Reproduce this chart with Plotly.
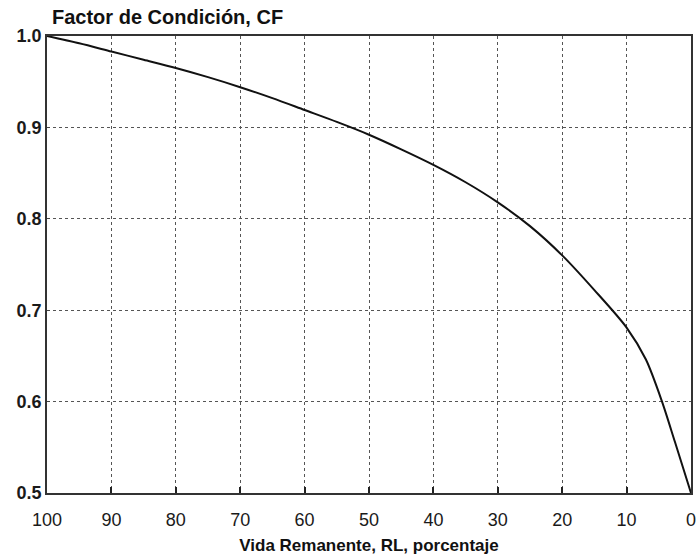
import plotly.graph_objects as go

# Remaining life (%) and the matching condition factor
rl = [100, 95, 90, 85, 80, 75, 70, 65, 60, 55, 50, 45, 40, 35, 30, 25, 20, 15, 10, 7, 4.5, 2.5, 0]
cf = [1.000, 0.992, 0.983, 0.974, 0.965, 0.955, 0.944, 0.932, 0.919, 0.906, 0.892, 0.876,
      0.859, 0.840, 0.818, 0.792, 0.760, 0.722, 0.681, 0.646, 0.600, 0.556, 0.500]

x_ticks = [100, 90, 80, 70, 60, 50, 40, 30, 20, 10, 0]
y_ticks = [0.5, 0.6, 0.7, 0.8, 0.9, 1.0]
y_tick_text = ["0.5", "0.6", "0.7", "0.8", "0.9", "1.0"]

FONT = "Liberation Sans, Arial, sans-serif"

fig = go.Figure()
fig.add_trace(go.Scatter(
    x=rl, y=cf, mode="lines",
    line=dict(color="#111111", width=2, shape="spline", smoothing=0.8),
    hoverinfo="skip", showlegend=False,
))

fig.update_layout(
    width=697, height=555,
    margin=dict(l=47, r=1, t=36, b=62),
    paper_bgcolor="white", plot_bgcolor="white",
    font=dict(family=FONT, color="#1a1a1a"),
    title=dict(
        text="<b>Factor de Condición, CF</b>",
        x=52 / 697, xanchor="left", xref="container",
        y=1 - 17 / 555, yanchor="middle", yref="container",
        font=dict(size=20, family=FONT, color="#111111"),
    ),
)

fig.update_xaxes(
    range=[100, 0], tickvals=x_ticks, ticktext=[str(v) for v in x_ticks],
    showgrid=True, gridcolor="#555555", griddash="dot", gridwidth=1,
    showline=True, linecolor="#333333", linewidth=1.5, mirror=True,
    ticks="inside", ticklen=6, tickwidth=1.5, tickcolor="#222222",
    tickfont=dict(size=18, family=FONT, color="#1a1a1a"),
    ticklabelstandoff=10, ticklabeloverflow="allow",
    zeroline=False,
    title=dict(text="<b>Vida Remanente, RL, porcentaje</b>",
               font=dict(size=17, family=FONT, color="#111111"), standoff=12),
)
fig.update_yaxes(
    range=[0.5, 1.0], tickvals=y_ticks, ticktext=[f"<b>{t}</b>" for t in y_tick_text],
    showgrid=True, gridcolor="#555555", griddash="dot", gridwidth=1,
    showline=True, linecolor="#333333", linewidth=1.5, mirror=True,
    ticks="inside", ticklen=3, tickwidth=1, tickcolor="#444444",
    tickfont=dict(size=18, family=FONT, color="#1a1a1a"),
    zeroline=False,
)

fig.write_html("out.html")
